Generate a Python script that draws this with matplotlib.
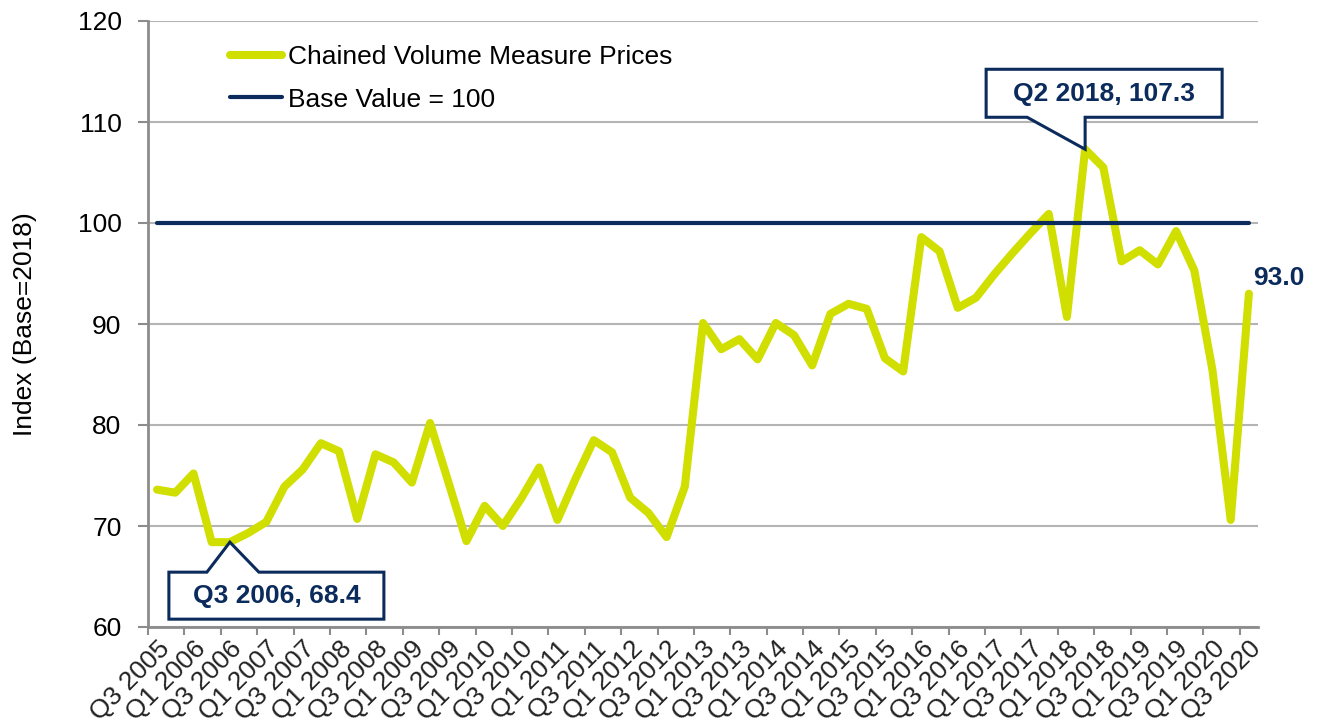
import numpy as np
import matplotlib
matplotlib.use("Agg")
import matplotlib.pyplot as plt
from matplotlib import transforms
from matplotlib.patches import Polygon

plt.rcParams["font.family"] = ["Liberation Sans", "DejaVu Sans"]

# ── Data ───────────────────────────────────────────────────────────────────
quarters = [f"Q{q} {y}" for y in range(2005, 2021) for q in (1, 2, 3, 4)][2:63]

cvm_prices = [
    73.6, 73.3, 75.2, 68.4, 68.4, 69.3, 70.4, 73.9, 75.6, 78.2,
    77.4, 70.7, 77.1, 76.3, 74.3, 80.2, 74.4, 68.5, 72.0, 70.0,
    72.7, 75.8, 70.6, 74.7, 78.5, 77.3, 72.8, 71.3, 68.9, 73.9,
    90.1, 87.5, 88.5, 86.5, 90.1, 88.9, 85.9, 91.0, 92.0, 91.5,
    86.6, 85.3, 98.6, 97.2, 91.6, 92.6, 94.9, 97.0, 99.0, 100.9,
    90.7, 107.3, 105.5, 96.2, 97.3, 95.9, 99.2, 95.3, 85.4, 70.6,
    93.0,
]
base_value = [100.0] * len(quarters)

min_idx = 4    # Q3 2006, 68.4
max_idx = 51   # Q2 2018, 107.3

YELLOW = "#D0DE00"
NAVY = "#0B2B5C"
GRID = "#B4B4B4"
AXIS = "#8C8C8C"
FS = 19

fig = plt.figure(figsize=(13.22, 7.26), dpi=100)
ax = fig.add_axes([148 / 1322, 1 - 627 / 726, 1110 / 1322, 606 / 726])

x = np.arange(len(quarters))
ax.plot(x, cvm_prices, color=YELLOW, lw=5.8, solid_joinstyle="round",
        solid_capstyle="round", zorder=3, label="Chained Volume Measure Prices")
ax.plot(x, base_value, color=NAVY, lw=3.0, solid_capstyle="round",
        zorder=4, label="Base Value = 100")

ax.set_xlim(-0.5, len(quarters) - 0.5)
ax.set_ylim(60, 120)
ax.set_yticks(np.arange(60, 121, 10))
ax.yaxis.grid(True, color=GRID, lw=1.5, zorder=0)
ax.set_axisbelow(True)

# category ticks between quarters, labels every second quarter
ax.set_xticks(np.arange(-0.5, len(quarters), 2))
ax.set_xticklabels([])
ax.set_xticks(x[::2], minor=True)
ax.set_xticklabels(quarters[::2], minor=True, rotation=45, ha="right",
                   rotation_mode="anchor", fontsize=FS, color="#222222")
ax.tick_params(axis="x", which="major", length=6, width=1.5, color=AXIS, direction="out")
ax.tick_params(axis="x", which="minor", length=0, pad=7)
ax.tick_params(axis="y", length=7, width=1.5, color=AXIS, pad=12, labelsize=FS)

for side in ("top", "right"):
    ax.spines[side].set_visible(False)
for side in ("left", "bottom"):
    ax.spines[side].set_color(AXIS)
    ax.spines[side].set_linewidth(2)

ax.set_ylabel("Index (Base=2018)", fontsize=FS)
ax.yaxis.set_label_coords(-0.100, 0.5)

ax.legend(loc="upper left", bbox_to_anchor=(0.0735, 0.960), frameon=False,
          fontsize=FS, handlelength=2.0, handletextpad=0.2, labelspacing=0.70,
          borderpad=0, borderaxespad=0)


# ── Callout boxes (shape given in pixels relative to the data point) ──────
def callout(idx, verts, text_off):
    anchor = transforms.ScaledTranslation(idx, cvm_prices[idx], ax.transData)
    trans = fig.dpi_scale_trans + anchor
    pts = np.array(verts, dtype=float) / fig.dpi
    ax.add_patch(Polygon(pts, closed=True, fc="white", ec=NAVY, lw=2.2,
                         transform=trans, zorder=6, clip_on=False,
                         joinstyle="miter"))
    ax.text(text_off[0] / fig.dpi, text_off[1] / fig.dpi,
            f"{quarters[idx]}, {cvm_prices[idx]:.1f}", transform=trans,
            ha="center", va="center", fontsize=FS, fontweight="bold",
            color=NAVY, zorder=7)


callout(min_idx,
        [(-61, -30), (-23, -30), (0, 0), (29, -30), (154, -30),
         (154, -77), (-61, -77)],
        (46.5, -54))
callout(max_idx,
        [(-99, 32), (-58, 32), (0, 0), (0, 32), (137, 32),
         (137, 80), (-99, 80)],
        (19, 55))

ax.annotate(f"{cvm_prices[-1]:.1f}", (x[-1], cvm_prices[-1]),
            xytext=(3, 3), textcoords="offset points", ha="left", va="bottom",
            fontsize=FS, fontweight="bold", color=NAVY, annotation_clip=False)

fig.savefig("out.png", dpi=100)
